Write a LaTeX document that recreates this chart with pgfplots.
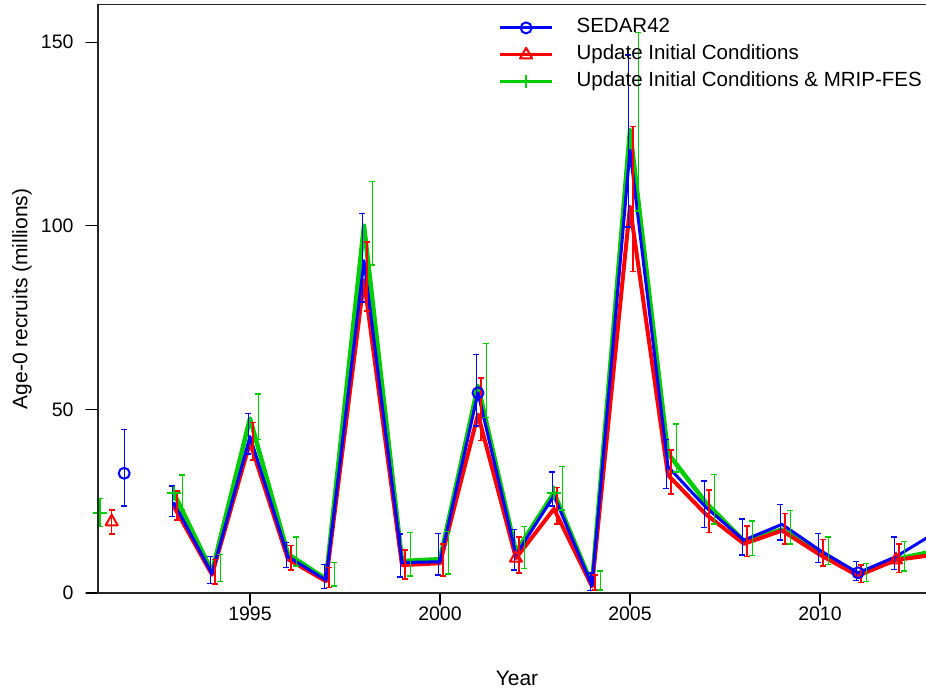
\documentclass[border=0pt]{standalone}
\usepackage{pgfplots}
\pgfplotsset{compat=1.18}
\usepackage{pgfplotstable}
\usepackage{fontspec}
\setmainfont{Liberation Sans}
\definecolor{cb}{RGB}{0,0,255}
\definecolor{cr}{RGB}{255,0,0}
\definecolor{cg}{RGB}{0,205,0}

\pgfplotstableread{
x y
1993 24.5
1994 5.2
1995 42.6
1996 9.9
1997 3.5
1998 90.5
1999 8.3
2000 8.5
2001 54.5
2002 10.4
2003 26.5
2004 2.0
2005 120.6
2006 34.4
2007 23.3
2008 14.4
2009 18.7
2010 11.6
2011 5.5
2012 9.9
2013 16.2
}\blueline
\pgfplotstableread{
x y
1993 23.5
1994 5.0
1995 41.0
1996 9.2
1997 3.2
1998 85.2
1999 7.6
2000 8.1
2001 48.6
2002 9.5
2003 22.9
2004 1.8
2005 105.2
2006 32.1
2007 21.4
2008 13.4
2009 17.0
2010 10.4
2011 4.7
2012 9.0
2013 10.4
}\redline
\pgfplotstableread{
x y
1993 27.1
1994 5.8
1995 47.5
1996 10.6
1997 3.8
1998 100
1999 8.7
2000 9.2
2001 56.4
2002 11.2
2003 27.3
2004 2.3
2005 126
2006 38
2007 24.6
2008 14.1
2009 17.3
2010 10.9
2011 5.0
2012 9.2
2013 11.4
}\greenline

\pgfplotstableread{
x y lo hi
1991.69 32.6 23.7 44.6
1992.96 24.5 20.8 29.1
1993.96 5.2 2.6 9.9
1994.96 42.6 37.8 48.9
1995.96 9.9 6.9 13.8
1996.96 3.5 1.3 7.8
1997.96 90.5 79.2 103.4
1998.96 8.3 4.4 16.1
1999.96 8.5 4.9 16.2
2000.96 54.5 45.5 65.0
2001.96 10.4 6.3 17.3
2002.96 26.5 23.7 32.9
2003.96 2.0 0.6 5.4
2004.96 120.6 99.7 146.5
2005.96 34.4 28.5 41.8
2006.96 23.3 17.8 30.5
2007.96 14.4 10.3 20.1
2008.96 18.7 14.4 24.1
2009.96 11.6 8.3 16.2
2010.96 5.5 3.4 8.5
2011.96 9.9 6.4 15.3
}\blueerr
\pgfplotstableread{
x y lo hi
1991.36 19.4 16.1 22.6
1993.08 23.5 19.9 27.8
1994.08 5.0 2.5 9.2
1995.08 41.0 36.2 46.4
1996.08 9.2 6.3 12.9
1997.08 3.2 1.5 6.9
1998.08 85.2 76.8 95.6
1999.08 7.6 3.8 11.7
2000.08 8.1 4.6 13.3
2001.08 48.6 41.5 58.5
2002.08 9.5 5.4 15.2
2003.08 22.9 18.8 28.8
2004.08 1.8 0.8 4.9
2005.08 105.2 87.5 127.0
2006.08 32.1 27.0 38.9
2007.08 21.4 16.4 28.0
2008.08 13.4 9.9 18.2
2009.08 17.0 13.3 21.7
2010.08 10.4 7.4 14.6
2011.08 4.7 2.9 7.6
2012.08 9.0 5.6 13.3
}\rederr
\pgfplotstableread{
x y lo hi
1991.05 21.9 18.1 25.8
1993.22 27.1 22.6 32.1
1994.22 5.8 3.1 10.5
1995.22 47.5 41.8 54.2
1996.22 10.6 7.4 15.2
1997.22 3.8 1.9 8.3
1998.22 100 89.3 112
1999.22 8.7 4.6 16.5
2000.22 9.2 5.2 16.7
2001.22 56.4 47.8 68.0
2002.22 11.2 6.7 18.1
2003.22 27.3 22.6 34.4
2004.22 2.3 0.8 6.0
2005.22 126 104 152.6
2006.22 38 33.0 46.0
2007.22 24.6 18.8 32.3
2008.22 14.1 10.2 19.6
2009.22 17.3 13.3 22.4
2010.22 10.9 7.8 15.3
2011.22 5.0 3.1 8.1
2012.22 9.2 6.0 14.0
}\greenerr

\pgfplotstableread{
x y
1991.69 32.6
}\bluept
\pgfplotstableread{
x y
1991.36 19.4
}\redpt
\pgfplotstableread{
x y
1991.05 21.9
}\greenpt

\newcommand{\fs}{\fontsize{19.5bp}{23bp}\selectfont}
\newcommand{\fl}{\fontsize{20.5bp}{24bp}\selectfont}
\newcommand{\fx}{\fontsize{21bp}{25bp}\selectfont}

\begin{document}
\begin{tikzpicture}
\begin{axis}[
  name=ax,
  width=828bp, height=588.3bp, scale only axis,
  xmin=1991, xmax=2012.79, ymin=0, ymax=160.2,
  axis line style={draw=none},
  xtick={1995,2000,2005,2010}, ytick={0,50,100,150},
  tick align=outside, tick pos=left, major tick length=12bp,
  tick style={black, line width=1.3bp},
  every tick label/.append style={font=\fs},
  yticklabel style={xshift=-9bp},
  xticklabel style={yshift=2bp},
  /pgf/number format/set thousands separator={},
  /pgf/number format/assume math mode=true,
  legend image code/.code={\draw[mark repeat=2,mark phase=2] plot coordinates {(0bp,0bp) (26bp,0bp) (52bp,0bp)};},
  legend style={at={(rel axis cs:0.48,0.983)}, anchor=north west, draw=none, fill=none,
    font=\fl, row sep=5bp, nodes={text height=14bp, text depth=4bp, inner sep=2bp},
    /tikz/every odd column/.append style={column sep=21bp}},
  legend cell align=left,
  line join=round, line cap=round,
  error bars/error mark options={rotate=90},
]
\addlegendimage{cb, line width=3bp, mark=o, mark options={solid, line width=2bp, mark size=5.5bp}}
\addlegendentry{SEDAR42}
\addlegendimage{cr, line width=3bp, mark=triangle, mark options={solid, line width=2bp, mark size=7bp}}
\addlegendentry{Update Initial Conditions}
\addlegendimage{cg, line width=3bp, mark=+, mark options={solid, line width=2bp, mark size=6.5bp}}
\addlegendentry{Update Initial Conditions \& MRIP-FES}

\addplot[forget plot, cg, line width=4.5bp, mark=+, mark indices={1,11,21}, mark options={line width=2bp, mark size=6.5bp}] table[x=x,y=y] {\greenline};
\addplot[forget plot, cr, line width=4bp, mark=triangle, mark indices={10,20}, mark options={line width=2bp, mark size=7bp}] table[x=x,y=y] {\redline};
\addplot[forget plot, cb, line width=3bp, mark=o, mark indices={9,19}, mark options={line width=2bp, mark size=5.5bp}] table[x=x,y=y] {\blueline};

\addplot[forget plot, only marks, cg, mark=+, mark options={line width=2bp, mark size=6.5bp}] table[x=x,y=y] {\greenpt};
\addplot[forget plot, only marks, cr, mark=triangle, mark options={line width=2bp, mark size=7bp}] table[x=x,y=y] {\redpt};
\addplot[forget plot, only marks, cb, mark=o, mark options={line width=2bp, mark size=5.5bp}] table[x=x,y=y] {\bluept};

\addplot[forget plot, draw=none, mark=none,
  error bars/.cd, y dir=both, y explicit,
  error bar style={draw=cb, solid, line width=1.4bp},
  error mark options={draw=cb, solid, rotate=90, line width=1.4bp, mark size=3bp}]
  table[x=x, y=y, y error plus expr=\thisrow{hi}-\thisrow{y}, y error minus expr=\thisrow{y}-\thisrow{lo}] {\blueerr};
\addplot[forget plot, draw=none, mark=none,
  error bars/.cd, y dir=both, y explicit,
  error bar style={draw=cr, solid, line width=1.4bp},
  error mark options={draw=cr, solid, rotate=90, line width=1.4bp, mark size=3bp}]
  table[x=x, y=y, y error plus expr=\thisrow{hi}-\thisrow{y}, y error minus expr=\thisrow{y}-\thisrow{lo}] {\rederr};
\addplot[forget plot, draw=none, mark=none,
  error bars/.cd, y dir=both, y explicit,
  error bar style={draw=cg, solid, line width=1.4bp},
  error mark options={draw=cg, solid, rotate=90, line width=1.4bp, mark size=3bp}]
  table[x=x, y=y, y error plus expr=\thisrow{hi}-\thisrow{y}, y error minus expr=\thisrow{y}-\thisrow{lo}] {\greenerr};
\end{axis}
\draw[line width=1.3bp, black!85] (ax.south east) -- (ax.south west) -- (ax.north west) -- (ax.north east);
\node[font=\fx, rotate=90] at ([xshift=-76bp]ax.west) {Age-0 recruits (millions)};
\node[font=\fx] at ([xshift=419bp, yshift=-85bp]ax.south west) {Year};
\pgfresetboundingbox
\path[use as bounding box] ([xshift=-98bp, yshift=-98bp]ax.south west) rectangle ([yshift=4.7bp]ax.north east);
\end{tikzpicture}
\end{document}
